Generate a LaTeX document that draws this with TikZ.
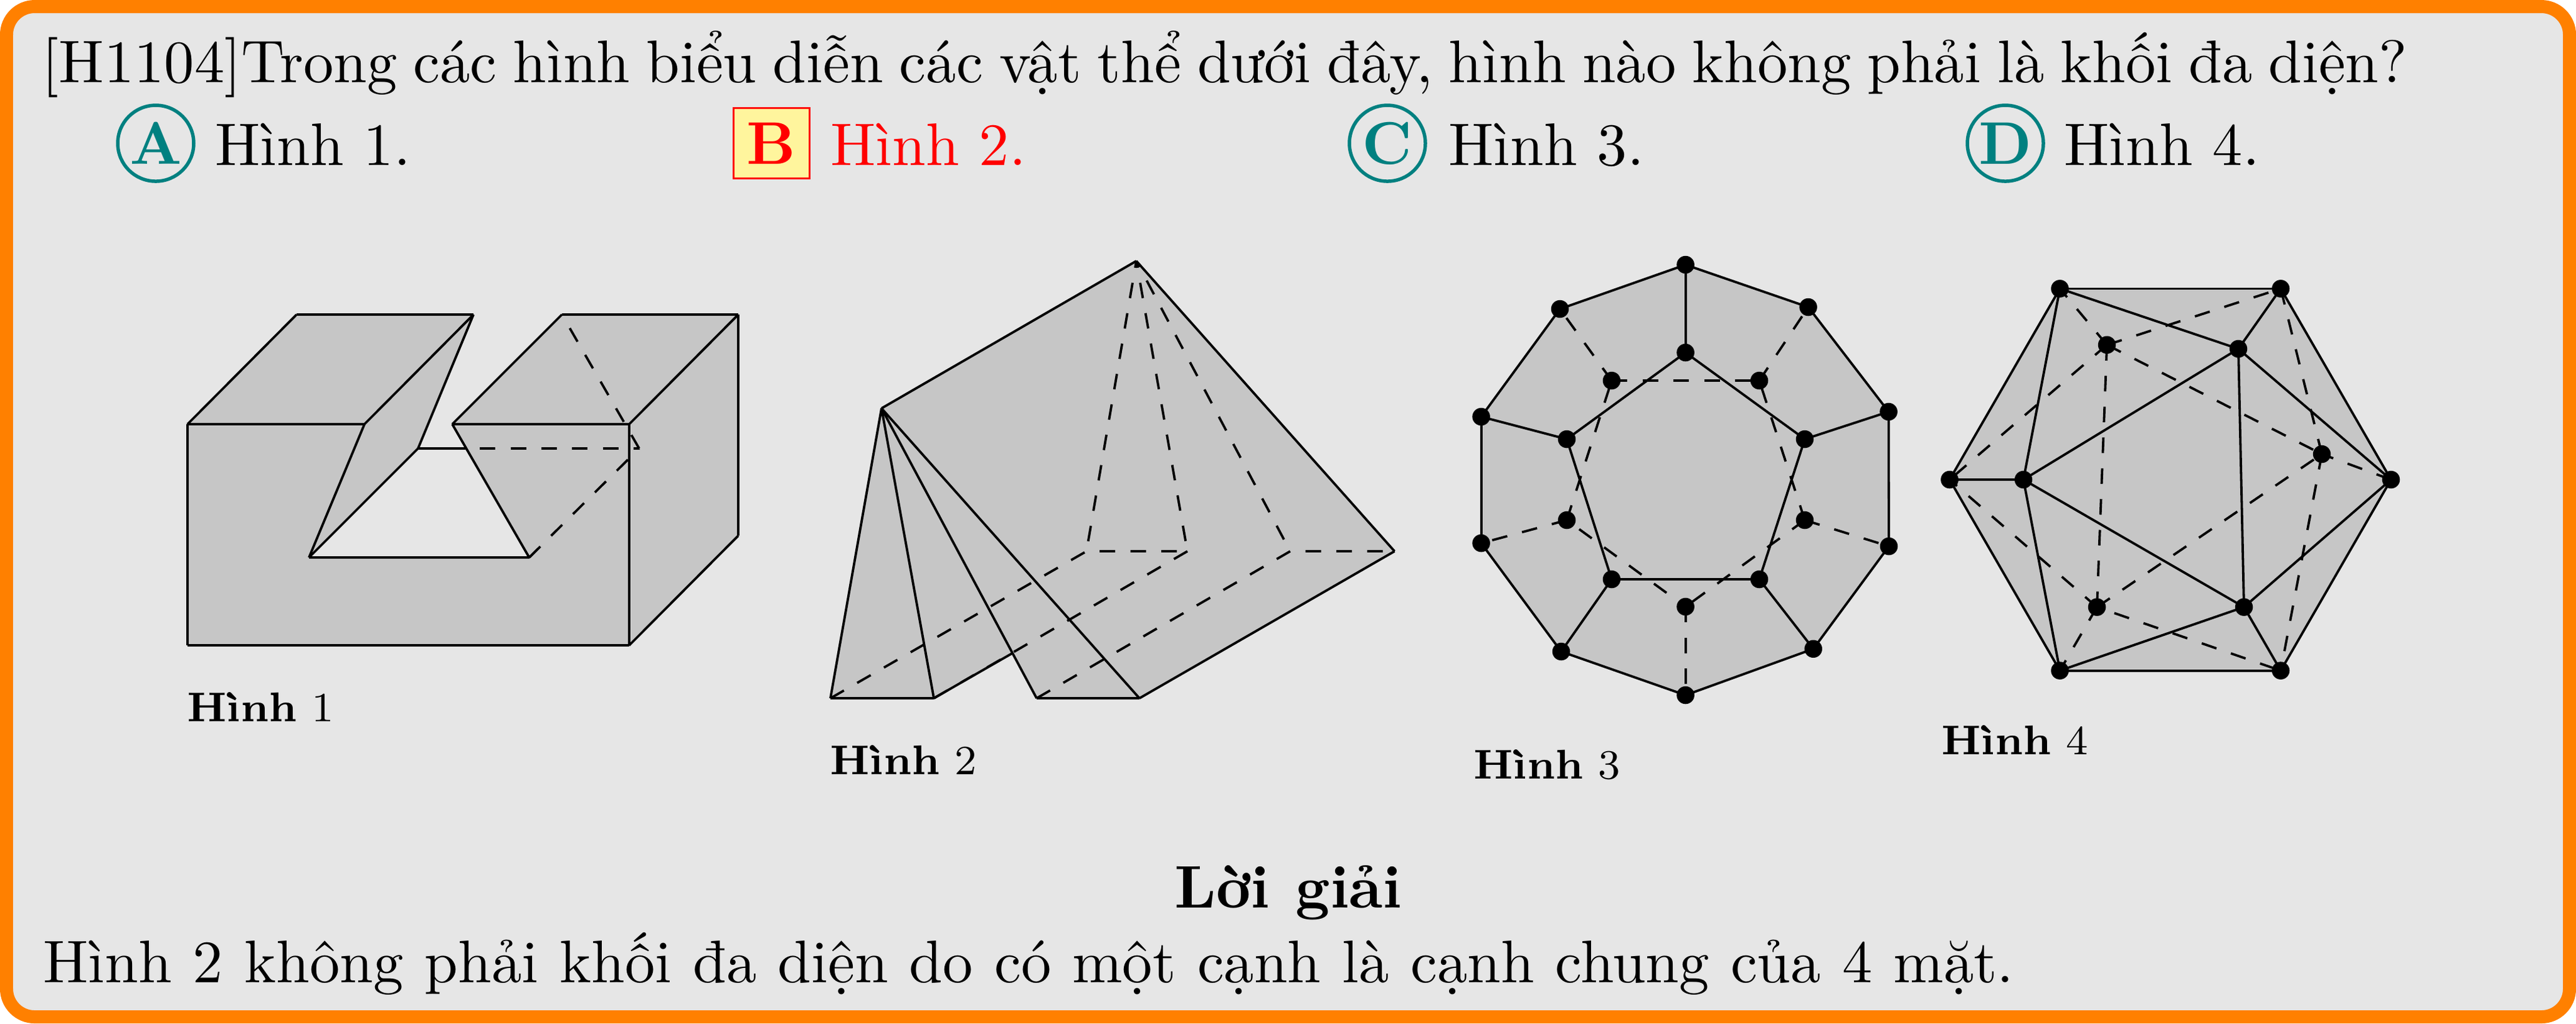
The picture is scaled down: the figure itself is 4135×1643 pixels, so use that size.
\documentclass[tikz,border=0pt]{standalone}
\definecolor{frameor}{RGB}{255,128,0}
\definecolor{panelbg}{RGB}{230,230,230}
\definecolor{solidgr}{RGB}{198,198,198}
\definecolor{tealc}{RGB}{0,128,128}
\definecolor{yelb}{RGB}{255,245,157}
\newcommand{\figlabel}[1]{\scalebox{0.834}{\fontsize{8}{9}\selectfont\textbf{Hình} #1}}
\tikzset{
  x=0.1pt,y=-0.1pt,
  sline/.style={draw=black,line width=0.38pt,line join=round},
  hid/.style={draw=black,line width=0.38pt,dash pattern=on 2.5pt off 2.45pt},
  body/.style={fill=solidgr,draw=none},
  txt/.style={anchor=base west,inner sep=0pt,outer sep=0pt,font=\fontsize{9.66}{11}\selectfont},
  figcap/.style={anchor=base west,inner sep=0pt,outer sep=0pt},
  markcirc/.style={circle,draw=tealc,line width=0.55pt,minimum size=12.2pt,inner sep=0pt,text=tealc,font=\fontsize{9.66}{11}\selectfont\bfseries},
  markbox/.style={rectangle,draw=red,fill=yelb,line width=0.3pt,minimum width=12.2pt,minimum height=11.3pt,inner sep=0pt,text=red,font=\fontsize{9.66}{11}\selectfont\bfseries},
  vdot/.style={circle,fill=black,draw=none,inner sep=0pt,minimum size=2.85pt}
}
\begin{document}
\begin{tikzpicture}
\useasboundingbox (0,0) rectangle (4135,1643);
\draw[fill=panelbg,draw=frameor,line width=2.1pt,rounded corners=4.5pt] (10.5,10.5) rectangle (4124.5,1632.5);
% texts
\node[txt] (q) at (68,132.5) {\spaceskip=2.61pt\relax [H1104]Trong các hình biểu diễn các vật thể dưới đây, hình nào không phải là khối đa diện?};
\node[markcirc] (mA) at (250,230) {A};
\node[txt] (tA) at (345,265) {Hình 1.};
\node[markbox] (mB) at (1238,230) {B};
\node[txt,text=red] (tB) at (1333,265) {Hình 2.};
\node[markcirc] (mC) at (2227,230) {C};
\node[txt] (tC) at (2325,265) {Hình 3.};
\node[markcirc] (mD) at (3219,230) {D};
\node[txt] (tD) at (3313,265) {Hình 4.};
\node[anchor=base,inner sep=0pt,font=\fontsize{9.66}{11}\selectfont\bfseries] (sol) at (2068,1457) {\spaceskip=4.1pt\relax Lời giải};
\node[txt] (ans) at (69,1577) {\spaceskip=3.42pt\relax Hình 2 không phải khối đa diện do có một cạnh là cạnh chung của 4 mặt.};
\node[figcap] (c1) at (300,1158) {\figlabel{1}};
\node[figcap] (c2) at (1332,1243) {\figlabel{2}};
\node[figcap] (c3) at (2365,1250.5) {\figlabel{3}};
\node[figcap] (c4) at (3116,1211) {\figlabel{4}};
% Figure 1
\foreach \n/\p in {a/{301,681},b/{476,505},c/{760,505},d/{585,681},e/{671,720},f/{496,895},g/{849.5,895},h/{726,681},i/{902,505},j/{1185,505},k/{1010,681},l/{1185,860},m/{1010,1036},n/{301,1036},o/{747,720},p/{1026,720}}
  {\coordinate (A\n) at (\p);}
\fill[body] (Aa)--(Ab)--(Ac)--(Ae)--(Af)--(Ag)--(Ah)--(Ai)--(Aj)--(Al)--(Am)--(An)--cycle;
\foreach \s/\t in {a/b,b/c,a/d,d/c,c/e,e/f,d/f,f/g,h/g,h/i,i/j,h/k,k/j,j/l,l/m,k/m,a/n,n/m,e/o}
  {\draw[sline] (A\s)--(A\t);}
\foreach \s/\t in {e/p,p/i,g/p}
  {\draw[hid] (A\s)--(A\t);}
% Figure 2
\foreach \n/\p in {a/{1824,419},b/{1415,655.5},c/{1333,1121},d/{1499,1121},e/{1664,1121},f/{1829,1121},g/{2238.5,885},h/{1744,885},i/{1906,885},j/{2071,885},x/{1624.4,1049}}
  {\coordinate (B\n) at (\p);}
\fill[body] (Bb)--(Ba)--(Bg)--(Bf)--(Be)--(Bx)--(Bd)--(Bc)--cycle;
\foreach \s/\t in {b/a,a/g,g/f,f/e,e/b,f/b,c/b,d/b,c/d,d/x}
  {\draw[sline] (B\s)--(B\t);}
\draw[hid] (Bc)--(Bh)--(Bi);
\draw[hid] (Bd)--(Bi);
\draw[hid] (Be)--(Bj)--(Bg);
\foreach \t in {h,i,j}
  {\draw[hid,dash phase=1.4pt] (Ba)--(B\t);}
% Figure 3
\foreach \n/\p in {a/{2705.6,425},b/{2902.6,493},c/{3031.6,661},d/{3032,877},e/{2910.7,1041.7},f/{2705.6,1116},g/{2506,1046},h/{2377.6,872},i/{2377.6,669},j/{2504,496},
  k/{2705.6,566},l/{2897,705},m/{2824,930},n/{2587,930},o/{2515,705},
  p/{2587,611},q/{2824,611},r/{2897,835},s/{2705.6,974},t/{2515,835}}
  {\coordinate (C\n) at (\p);}
\fill[body] (Ca)--(Cb)--(Cc)--(Cd)--(Ce)--(Cf)--(Cg)--(Ch)--(Ci)--(Cj)--cycle;
\foreach \s/\t in {a/b,b/c,c/d,d/e,e/f,f/g,g/h,h/i,i/j,j/a,k/l,l/m,m/n,n/o,o/k,a/k,c/l,e/m,g/n,i/o}
  {\draw[sline] (C\s)--(C\t);}
\foreach \s/\t/\ph in {p/q/0,r/q/0,r/s/0,s/t/1.17,t/p/0,q/b/0,r/d/0,s/f/0,t/h/0,p/j/0}
  {\draw[hid,dash phase=\ph pt] (C\s)--(C\t);}
\foreach \n in {a,b,c,d,e,f,g,h,i,j,k,l,m,n,o,p,q,r,s,t}
  {\node[vdot] (dC\n) at (C\n) {};}
% Figure 4
\foreach \n/\p in {a/{3306.5,463.4},b/{3661,463.4},c/{3838,770},d/{3661,1076.6},e/{3306.5,1076.6},f/{3129.5,770},
  g/{3593,560},h/{3248,770},i/{3602,974.6},
  j/{3382,553.7},k/{3727,729},l/{3366,974.6}}
  {\coordinate (D\n) at (\p);}
\fill[body] (Da)--(Db)--(Dc)--(Dd)--(De)--(Df)--cycle;
\foreach \s/\t in {a/b,b/c,c/d,d/e,e/f,f/a,g/h,h/i,i/g,g/a,g/b,g/c,h/f,h/a,h/e,i/c,i/d,i/e}
  {\draw[sline] (D\s)--(D\t);}
\foreach \s/\t/\ph in {j/k/0,l/k/0,l/j/0,a/j/0.7,j/b/0,j/f/0,k/b/0,k/c/0.55,k/d/0,l/f/0,l/e/0,l/d/2.0}
  {\draw[hid,dash phase=\ph pt] (D\s)--(D\t);}
\foreach \n in {a,b,c,d,e,f,g,h,i,j,k,l}
  {\node[vdot] (dD\n) at (D\n) {};}
\end{tikzpicture}
\end{document}
